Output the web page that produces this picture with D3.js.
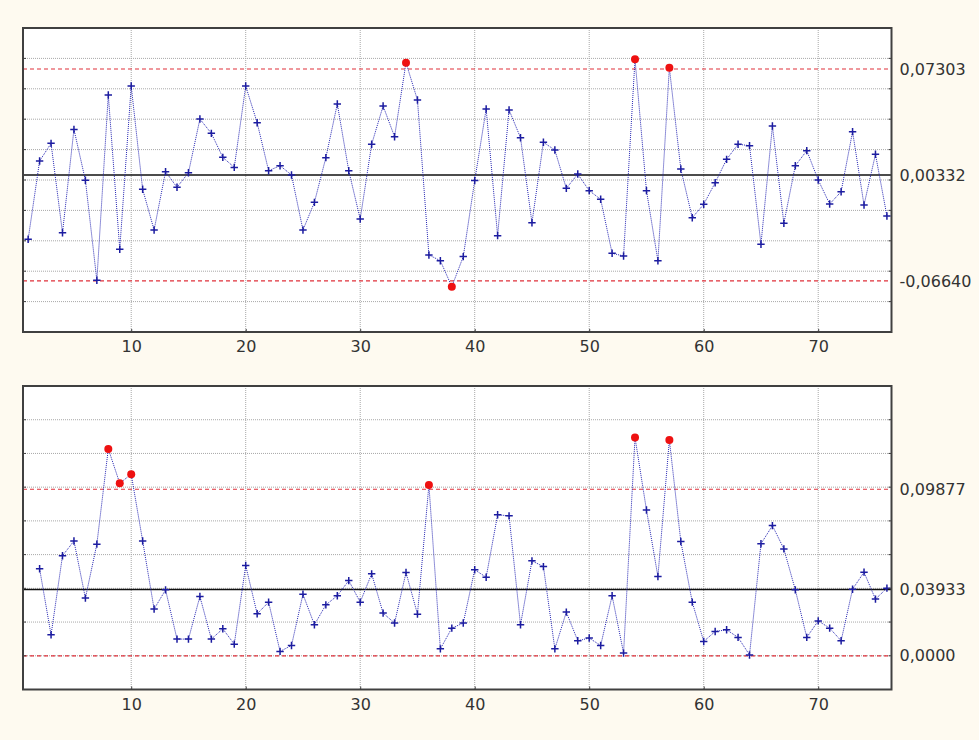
<!DOCTYPE html>
<html>
  <head>
    <meta charset="utf-8" />
    <script src="https://d3js.org/d3.v7.min.js"></script>
    <style>
      body {
        margin: 0;
        background-color: #fefaf0;
      }
    </style>
  </head>

  <body>
    <div id="chartContainer"></div>
  </body>

  <script type="text/javascript">
    // individual values (samples 1..76)
    const xValues = [
      -0.039, 0.0125, 0.0241, -0.0347, 0.0333, -0.0002, -0.066, 0.0559, -0.0456, 0.0618,
      -0.0061, -0.0329, 0.0055, -0.0048, 0.0048, 0.0401, 0.0307, 0.0149, 0.0083, 0.0618,
      0.0377, 0.0061, 0.0094, 0.0033, -0.0329, -0.0147, 0.0147, 0.05, 0.0061, -0.0257,
      0.0235, 0.0487, 0.0285, 0.0772, 0.0526, -0.0493, -0.0531, -0.0702, -0.0504, -0.0004,
      0.0467, -0.0366, 0.0461, 0.0278, -0.0281, 0.0248, 0.0197, -0.0055, 0.0039, -0.007,
      -0.0127, -0.0482, -0.05, 0.0794, -0.007, -0.0531, 0.0739, 0.0072, -0.0248, -0.016,
      -0.0018, 0.0136, 0.0235, 0.0226, -0.0423, 0.0355, -0.0285, 0.0094, 0.0193, 0.0,
      -0.0158, -0.0077, 0.0318, -0.0164, 0.0169, -0.0237,
    ];
    // moving ranges (samples 2..76)
    const mrValues = [
      0.0516, 0.0124, 0.0593, 0.0681, 0.0342, 0.0662, 0.1227, 0.1023, 0.1077, 0.0681,
      0.0277, 0.0391, 0.0099, 0.0099, 0.0352, 0.0099, 0.016, 0.0069, 0.0535, 0.0249,
      0.0318, 0.0026, 0.0061, 0.0365, 0.0184, 0.0302, 0.0356, 0.0446, 0.0318, 0.0486,
      0.0253, 0.0194, 0.0494, 0.0247, 0.1013, 0.0041, 0.0164, 0.0194, 0.051, 0.0466,
      0.0836, 0.083, 0.0184, 0.0563, 0.0529, 0.0041, 0.0259, 0.0089, 0.0105, 0.0061,
      0.0356, 0.0016, 0.1294, 0.0865, 0.047, 0.128, 0.0678, 0.0318, 0.0085, 0.0144,
      0.0154, 0.0109, 0.0005, 0.0664, 0.0772, 0.0634, 0.0391, 0.0109, 0.0207, 0.0164,
      0.0089, 0.0395, 0.0496, 0.0336, 0.0401,
    ];
    const xLimits = { ucl: 0.07303, cl: 0.00332, lcl: -0.0664 };
    const mrLimits = { ucl: 0.09877, cl: 0.03933, lcl: 0.0 };
    const xLimitLabels = ["0,07303", "0,00332", "-0,06640"];
    const mrLimitLabels = ["0,09877", "0,03933", "0,0000"];
    const xTickValues = [10, 20, 30, 40, 50, 60, 70];

    const width = 979,
      height = 740;
    const labelFont = "'DejaVu Sans', Verdana, sans-serif";

    const svg = d3
      .select("#chartContainer")
      .append("svg")
      .attr("width", width)
      .attr("height", height);

    const x = d3.scaleLinear().domain([0.55, 76.4]).range([23, 891.5]);

    function drawPanel(values, startIndex, limits, labels, yDomain, gridStep, top, bottom) {
      const y = d3.scaleLinear().domain(yDomain).range([bottom, top]);
      const data = values.map((v, i) => ({ n: i + startIndex, v: v }));
      const left = x.range()[0],
        right = x.range()[1];

      const g = svg.append("g");

      g.append("rect")
        .attr("x", left)
        .attr("y", top)
        .attr("width", right - left)
        .attr("height", bottom - top)
        .attr("fill", "#ffffff");

      // grid
      const gridY = d3.range(yDomain[0], yDomain[1] + 1e-9, gridStep).slice(1);
      g.selectAll(".hgrid")
        .data(gridY)
        .enter()
        .append("line")
        .attr("x1", left)
        .attr("x2", right)
        .attr("y1", (d) => y(d))
        .attr("y2", (d) => y(d))
        .attr("stroke", "#a8a8a8")
        .attr("stroke-width", 1)
        .attr("stroke-dasharray", "1,1");

      g.selectAll(".vgrid")
        .data(xTickValues)
        .enter()
        .append("line")
        .attr("x1", (d) => x(d))
        .attr("x2", (d) => x(d))
        .attr("y1", top)
        .attr("y2", bottom)
        .attr("stroke", "#a8a8a8")
        .attr("stroke-width", 1)
        .attr("stroke-dasharray", "1,1");

      // limit lines
      g.selectAll(".limit")
        .data([limits.ucl, limits.lcl])
        .enter()
        .append("line")
        .attr("x1", left)
        .attr("x2", right)
        .attr("y1", (d) => y(d))
        .attr("y2", (d) => y(d))
        .attr("stroke", "#e0303a")
        .attr("stroke-width", 1.2)
        .attr("stroke-dasharray", "4,3");

      g.append("line")
        .attr("x1", left)
        .attr("x2", right)
        .attr("y1", y(limits.cl))
        .attr("y2", y(limits.cl))
        .attr("stroke", "#111111")
        .attr("stroke-width", 1.5);

      // series line
      const line = d3
        .line()
        .x((d) => x(d.n))
        .y((d) => y(d.v));

      g.append("path")
        .datum(data)
        .attr("d", line)
        .attr("fill", "none")
        .attr("stroke", "#2626b4")
        .attr("stroke-width", 1)
        .attr("stroke-dasharray", "1,1");

      const outOf = (d) => d.v > limits.ucl || d.v < limits.lcl;

      g.selectAll(".pt")
        .data(data.filter((d) => !outOf(d)))
        .enter()
        .append("path")
        .attr("d", "M-3.7,0H3.7M0,-3.7V3.7")
        .attr("transform", (d) => `translate(${x(d.n)},${y(d.v)})`)
        .attr("stroke", "#1c1ca0")
        .attr("stroke-width", 1.5)
        .attr("fill", "none");

      g.selectAll(".bad")
        .data(data.filter(outOf))
        .enter()
        .append("circle")
        .attr("cx", (d) => x(d.n))
        .attr("cy", (d) => y(d.v))
        .attr("r", 4)
        .attr("fill", "#ee1111");

      // frame
      g.append("rect")
        .attr("x", left)
        .attr("y", top)
        .attr("width", right - left)
        .attr("height", bottom - top)
        .attr("fill", "none")
        .attr("stroke", "#404040")
        .attr("stroke-width", 2);

      // inner ticks on left and right
      const yTicks = g.append("g");
      gridY.forEach((d) => {
        yTicks
          .append("line")
          .attr("x1", left)
          .attr("x2", left + 3)
          .attr("y1", y(d))
          .attr("y2", y(d))
          .attr("stroke", "#404040");
        yTicks
          .append("line")
          .attr("x1", right - 3)
          .attr("x2", right)
          .attr("y1", y(d))
          .attr("y2", y(d))
          .attr("stroke", "#404040");
      });

      // x axis
      const xAxis = d3
        .axisBottom(x)
        .tickValues(xTickValues)
        .tickSize(-3)
        .tickPadding(9)
        .tickFormat(d3.format("d"));
      const ax = g.append("g").attr("transform", `translate(0,${bottom})`).call(xAxis);
      ax.select(".domain").remove();
      ax.selectAll("line").attr("stroke", "#404040");
      ax.selectAll("text").attr("font-size", 16).attr("fill", "#333333").attr("font-family", labelFont);

      // right axis: limit values
      const yAxis = d3
        .axisRight(y)
        .tickValues([limits.ucl, limits.cl, limits.lcl])
        .tickSize(0)
        .tickPadding(8)
        .tickFormat((d, i) => labels[i]);
      const ay = g.append("g").attr("transform", `translate(${right},0)`).call(yAxis);
      ay.select(".domain").remove();
      ay.selectAll("text").attr("font-size", 16).attr("fill", "#333333").attr("font-family", labelFont);
    }

    drawPanel(xValues, 1, xLimits, xLimitLabels, [-0.1, 0.1], 0.02, 28, 332);
    drawPanel(mrValues, 2, mrLimits, mrLimitLabels, [-0.02, 0.16], 0.02, 386, 689.5);
  </script>
</html>
